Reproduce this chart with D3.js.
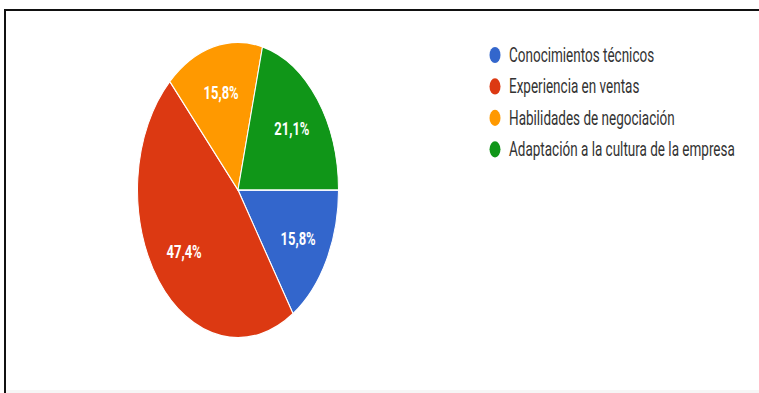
<!DOCTYPE html>
<html>
<head>
<meta charset="utf-8">
<script src="https://cdn.jsdelivr.net/npm/d3@7"></script>
<style>
  html, body { margin: 0; padding: 0; background: #fff; }
  svg { display: block; }
</style>
</head>
<body>
<svg id="chart" width="759" height="393"></svg>
<script>
// Answer categories and their share of responses (percent)
const categories = [
  "Conocimientos técnicos",
  "Experiencia en ventas",
  "Habilidades de negociación",
  "Adaptación a la cultura de la empresa"
];
const shares = [15.8, 47.4, 15.8, 21.1];
const sliceLabels = ["15,8%", "47,4%", "15,8%", "21,1%"];
const palette = ["#3366cc", "#dc3912", "#ff9900", "#109618"];

const W = 759, H = 393;
const stretchY = 1.47;           // the chart is shown stretched vertically
const cx = 238, cy = 190 / stretchY, R = 100.5;

const svg = d3.select("#chart");

// frame lines along the top and left edge, faint strip along the bottom
svg.append("rect").attr("x", 4).attr("y", 9).attr("width", W - 4).attr("height", 2).attr("fill", "#111");
svg.append("rect").attr("x", 4).attr("y", 9).attr("width", 2).attr("height", H - 9).attr("fill", "#111");
svg.append("rect").attr("x", 6).attr("y", H - 3).attr("width", W - 6).attr("height", 3).attr("fill", "#f6f6f6");

const g = svg.append("g").attr("transform", `scale(1,${stretchY})`);

const color = d3.scaleOrdinal().domain(categories).range(palette);

const pie = d3.pie()
  .value(d => d.value)
  .sort(null)
  .startAngle(Math.PI / 2)
  .endAngle(Math.PI / 2 + 2 * Math.PI);

const data = categories.map((c, i) => ({ name: c, value: shares[i], label: sliceLabels[i] }));
const arcs = pie(data);

const arc = d3.arc().innerRadius(0).outerRadius(R);
const labelArc = d3.arc().innerRadius(R * 0.68).outerRadius(R * 0.68);

const pieG = g.append("g").attr("transform", `translate(${cx},${cy})`);

pieG.selectAll("path.slice")
  .data(arcs)
  .join("path")
  .attr("class", "slice")
  .attr("d", arc)
  .attr("fill", d => color(d.data.name))
  .attr("stroke", "#fff")
  .attr("stroke-width", 1);

pieG.selectAll("text.pct")
  .data(arcs)
  .join("text")
  .attr("class", "pct")
  .attr("transform", d => `translate(${labelArc.centroid(d)})`)
  .attr("text-anchor", "middle")
  .attr("dy", "0.35em")
  .attr("fill", "#fff")
  .attr("font-family", "Roboto, Arial, sans-serif")
  .attr("font-weight", "bold")
  .attr("font-size", 13)
  .text(d => d.data.label);

// legend
const legendRows = d3.scaleBand()
  .domain(categories)
  .range([26.7, 26.7 + 21.4 * 4]);

const legend = g.append("g");
const item = legend.selectAll("g.item")
  .data(categories)
  .join("g")
  .attr("class", "item")
  .attr("transform", d => `translate(0,${legendRows(d) + legendRows.bandwidth() / 2})`);

item.append("circle")
  .attr("cx", 495)
  .attr("cy", 0)
  .attr("r", 5.5)
  .attr("fill", d => color(d));

item.append("text")
  .attr("x", 509)
  .attr("y", 0)
  .attr("dy", "0.35em")
  .attr("fill", "#333")
  .attr("font-family", "Roboto, Arial, sans-serif")
  .attr("font-size", 13.5)
  .text(d => d);
</script>
</body>
</html>
